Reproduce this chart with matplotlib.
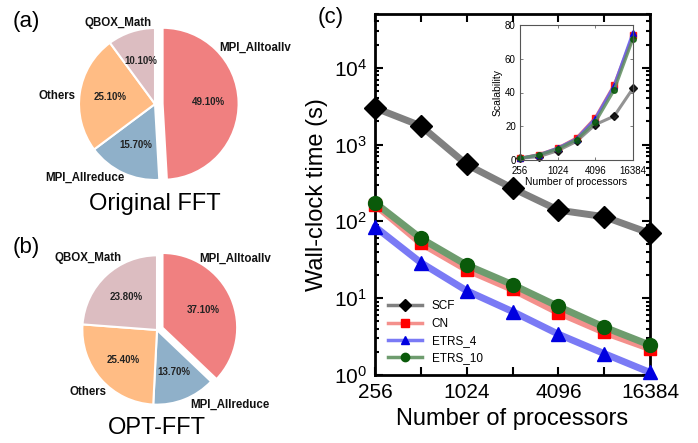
import numpy as np
import matplotlib
matplotlib.use('Agg')
import matplotlib.pyplot as plt
from matplotlib.ticker import FixedLocator, FixedFormatter, LogLocator, NullFormatter

plt.rcParams['font.family'] = ['Liberation Sans', 'DejaVu Sans']
plt.rcParams['mathtext.default'] = 'regular'

# pie data
pie_labels_a = ['MPI_Alltoallv', 'MPI_Allreduce', 'Others', 'QBOX_Math']
pie_values_a = [49.1, 15.7, 25.1, 10.1]
pie_labels_b = ['MPI_Alltoallv', 'MPI_Allreduce', 'Others', 'QBOX_Math']
pie_values_b = [37.1, 13.7, 25.4, 23.8]
pie_colors = ['#F08080', '#8FB0C9', '#FFBC84', '#DCBDC1']

# wall-clock data
procs = [256, 512, 1024, 2048, 4096, 8192, 16384]
scf = [3000, 1750, 550, 270, 140, 115, 70]
cn = [165, 52, 23.5, 13, 6.5, 3.6, 2.2]
etrs_4 = [85, 29, 12.5, 6.7, 3.4, 1.9, 1.08]
etrs_10 = [175, 60, 27, 15, 7.8, 4.2, 2.45]

# scalability (inset)
scal_scf = [1, 2, 5.5, 11, 21, 26, 42.5]
scal_cn = [1, 3.2, 7, 13, 25, 44.5, 74]
scal_etrs_4 = [1, 3, 7, 12.5, 24.5, 44, 75.5]
scal_etrs_10 = [1, 3, 6.5, 12, 22.5, 41.5, 72]

W, H = 698, 443
fig = plt.figure(figsize=(W / 100, H / 100), dpi=100)


def px_axes(left, bottom, width, height):
    return fig.add_axes([left / W, bottom / H, width / W, height / H])


def draw_pie(ax, values, labels, label_pos, explode, title):
    ax.pie(values, colors=pie_colors, startangle=90, counterclock=False,
           explode=[explode, 0, 0, 0], autopct='%.2f%%', pctdistance=0.6,
           wedgeprops=dict(edgecolor='white', linewidth=1.5),
           textprops=dict(fontsize=7, fontweight='bold', color='#222222'))
    for lab, (x, y) in zip(labels, label_pos):
        ax.text(x, y, lab, ha='center', va='center', fontsize=8.3,
                fontweight='bold', color='#111111')
    ax.set_xlim(-1.5, 1.5)
    ax.set_ylim(-1.5, 1.5)
    ax.set_aspect('equal')
    ax.axis('off')
    ax.text(0, -1.31, title, ha='center', va='center', fontsize=17)


# (a)
ax_a = px_axes(155 - 114, H - 104 - 114, 228, 228)
draw_pie(ax_a, pie_values_a, pie_labels_a,
         [(1.32, 0.74), (-0.92, -0.97), (-1.29, 0.1), (-0.49, 1.07)],
         0.1, 'Original FFT')
fig.text(13 / W, 1 - 21 / H, '(a)', fontsize=16, va='center')

# (b)
ax_b = px_axes(157 - 112, H - 330 - 112, 224, 224)
draw_pie(ax_b, pie_values_b, pie_labels_b,
         [(1.04, 0.96), (0.97, -1.0), (-0.93, -0.83), (-0.92, 0.96)],
         0.08, 'OPT-FFT')
fig.text(13 / W, 1 - 248 / H, '(b)', fontsize=16, va='center')

# (c) main
ax = px_axes(375, H - 375, 275, 361)
series = [
    ('SCF', scf, '#808080', 'black', 'D', 11),
    ('CN', cn, '#F4908C', '#FF0000', 's', 9),
    ('ETRS_4', etrs_4, '#7A7AF5', '#0000E0', '^', 10),
    ('ETRS_10', etrs_10, '#6E9C6E', '#0A5A0A', 'o', 10),
]
for name, vals, lc, mc, mk, ms in series:
    ax.plot(procs, vals, color=lc, lw=5, solid_capstyle='round', zorder=2,
            clip_on=False)
    ax.plot(procs, vals, ls='none', marker=mk, ms=ms, color=mc, zorder=3,
            clip_on=False)
ax.set_xscale('log', base=2)
ax.set_yscale('log')
ax.set_xlim(256, 16384)
ax.set_ylim(1, 5e4)
ax.xaxis.set_major_locator(FixedLocator(procs))
ax.xaxis.set_major_formatter(FixedFormatter(['256', '', '1024', '', '4096', '', '16384']))
ax.xaxis.set_minor_locator(FixedLocator([]))
ax.yaxis.set_major_locator(LogLocator(base=10, numticks=10))
ax.yaxis.set_minor_locator(LogLocator(base=10, subs=np.arange(2, 10), numticks=10))
ax.yaxis.set_minor_formatter(NullFormatter())
ax.tick_params(which='both', direction='in', top=True, right=True, width=1.5)
ax.tick_params(which='major', length=6, labelsize=15, pad=6)
ax.tick_params(which='minor', length=3)
for s in ax.spines.values():
    s.set_linewidth(2)
ax.set_xlabel('Number of processors', fontsize=17, labelpad=4)
ax.set_ylabel('Wall-clock time (s)', fontsize=17, labelpad=4)
fig.text(318 / W, 1 - 17 / H, '(c)', fontsize=16, va='center')

# legend with line + marker handles
handles = []
for name, vals, lc, mc, mk, ms in series:
    h, = ax.plot([], [], color=lc, lw=2.5, marker=mk, ms=6, mfc=mc, mec=mc,
                 label=name)
    handles.append(h)
ax.legend(handles=handles, loc='center left', bbox_to_anchor=(0.047, 0.118),
          frameon=False, fontsize=8.5, handlelength=2.9, labelspacing=0.45,
          handletextpad=0.8, borderpad=0, borderaxespad=0)

# inset
ins = px_axes(520, H - 160, 113, 135)
inset_series = [
    (scal_scf, '#808080', 'black', 'D'),
    (scal_cn, '#F06060', '#FF0000', 's'),
    (scal_etrs_4, '#6060F0', '#0000E0', '^'),
    (scal_etrs_10, '#5E8E5E', '#0A5A0A', 'o'),
]
for vals, lc, mc, mk in inset_series:
    ins.plot(procs, vals, color=lc, lw=2.2, alpha=0.85, marker=mk, ms=4,
             mfc=mc, mec=mc, clip_on=False)
ins.set_xscale('log', base=2)
ins.set_xlim(256, 16384)
ins.set_ylim(0, 80)
ins.xaxis.set_major_locator(FixedLocator([256, 1024, 4096, 16384]))
ins.xaxis.set_major_formatter(FixedFormatter(['256', '1024', '4096', '16384']))
ins.xaxis.set_minor_locator(FixedLocator([]))
ins.set_yticks([0, 20, 40, 60, 80])
ins.tick_params(direction='in', top=True, right=True, labelsize=7, length=2,
                width=0.6, color='#666666')
ins.tick_params(axis='x', pad=4)
ins.tick_params(axis='y', pad=3)
ins.set_xlabel('Number of processors', fontsize=7.5, labelpad=1)
ins.set_ylabel('Scalability', fontsize=7.5, labelpad=2)
for s in ins.spines.values():
    s.set_linewidth(0.8)
    s.set_color('#555555')

fig.savefig('out.png', dpi=100)
